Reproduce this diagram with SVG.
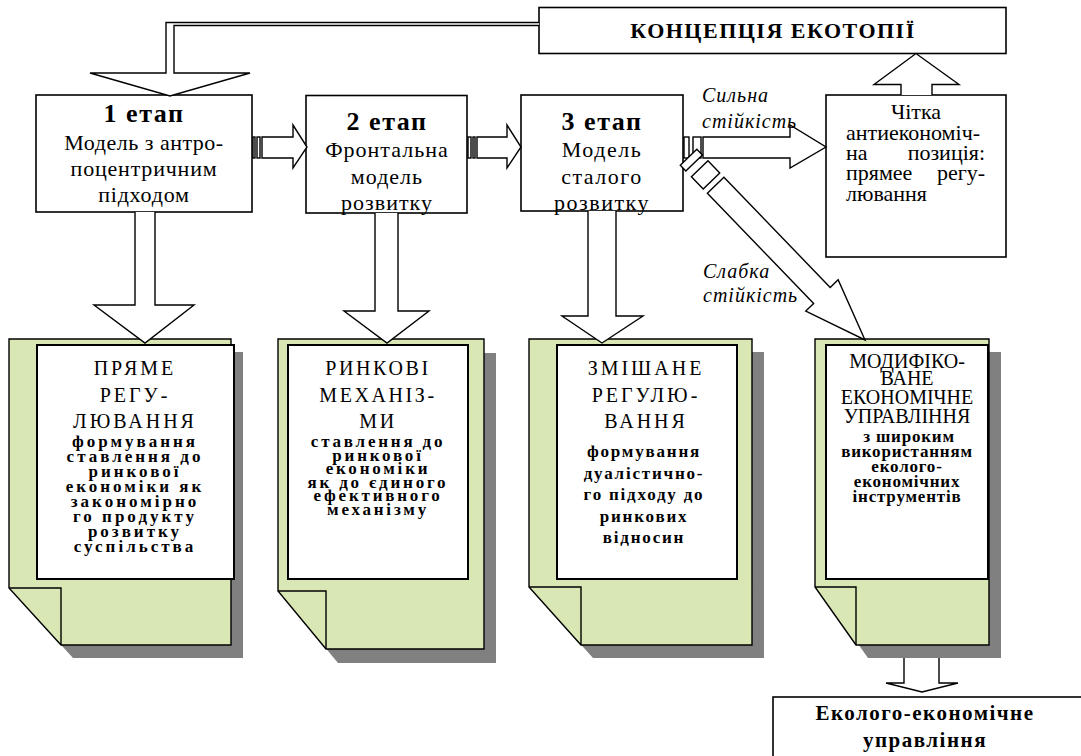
<svg xmlns="http://www.w3.org/2000/svg" width="1081" height="756" viewBox="0 0 1081 756">
<style>
.box{fill:#fff;stroke:#000;stroke-width:1.6}
.doc{fill:#d9e7b5;stroke:#000;stroke-width:1.4}
.shadow{fill:#808080}
.fold{fill:none;stroke:#000;stroke-width:1.4}
.inner{fill:#fff;stroke:#000;stroke-width:2}
.arr{fill:#fff;stroke:#000;stroke-width:1.4;stroke-linejoin:miter}
.t{font-family:"Liberation Serif","Times New Roman",serif;fill:#000;text-anchor:middle}
.b{font-weight:bold}
.i{font-style:italic;text-anchor:start;font-size:20px;letter-spacing:1px}
.s{text-anchor:start}
.e{text-anchor:end}
.st{font-size:22px}
.dt{font-size:20px}
.db{font-size:17px;font-weight:bold}
</style>
<rect width="1081" height="756" fill="#fff"/>

<g id="concept">
<rect class="box" x="539" y="7.5" width="467" height="46"/>
<text class="t b" x="773" y="38" font-size="22" letter-spacing="1.5">КОНЦЕПЦІЯ ЕКОТОПІЇ</text>
</g>

<g id="stage1">
<rect class="box" x="36" y="95" width="216" height="117"/>
<text class="t b" x="144" y="122" font-size="26" letter-spacing="1.5">1 етап</text>
<text class="t st" x="144" y="150" letter-spacing="0.5">Модель з антро-</text>
<text class="t st" x="144" y="176" letter-spacing="0.8">поцентричним</text>
<text class="t st" x="144" y="202" letter-spacing="0.8">підходом</text>
</g>

<g id="stage2">
<rect class="box" x="306" y="95.5" width="161" height="117.5"/>
<text class="t b" x="387" y="130" font-size="26" letter-spacing="1.5">2 етап</text>
<text class="t st" x="387" y="157" letter-spacing="1">Фронтальна</text>
<text class="t st" x="387" y="184" letter-spacing="1">модель</text>
<text class="t st" x="387" y="210" letter-spacing="1">розвитку</text>
</g>

<g id="stage3">
<rect class="box" x="521" y="95" width="162" height="116"/>
<text class="t b" x="602" y="130" font-size="26" letter-spacing="1.5">3 етап</text>
<text class="t st" x="602" y="157" letter-spacing="1.5">Модель</text>
<text class="t st" x="602" y="184" letter-spacing="1.5">сталого</text>
<text class="t st" x="602" y="210" letter-spacing="1.5">розвитку</text>
</g>

<g id="strong-position">
<rect class="box" x="826" y="95" width="180" height="162"/>
<text class="t st" x="916" y="119">Чітка</text>
<text class="t st s" x="846" y="140">антиекономіч-</text>
<text class="t st s" x="846" y="160">на</text>
<text class="t st e" x="985" y="160">позиція:</text>
<text class="t st s" x="846" y="180">прямее</text>
<text class="t st e" x="985" y="180">регу-</text>
<text class="t st s" x="846" y="201">лювання</text>
</g>

<g id="doc1">
<path class="shadow" d="M21,352 H243 V658 H73 L21,601 Z"/>
<path class="doc" d="M9,339 H231 V645 H61 L9,588 Z"/>
<path class="fold" d="M9,588 H61 V645"/>
<rect class="inner" x="37" y="345" width="197" height="234"/>
<g class="t">
<text class="dt" x="135" y="375" letter-spacing="3">ПРЯМЕ</text>
<text class="dt" x="135" y="402" letter-spacing="3">РЕГУ-</text>
<text class="dt" x="135" y="428" letter-spacing="3">ЛЮВАННЯ</text>
<g class="db" letter-spacing="3">
<text x="135" y="447">формування</text>
<text x="135" y="462">ставлення до</text>
<text x="135" y="477">ринкової</text>
<text x="135" y="492">економіки як</text>
<text x="135" y="507">закономірно</text>
<text x="135" y="522">го продукту</text>
<text x="135" y="537">розвитку</text>
<text x="135" y="552">суспільства</text>
</g>
</g>
</g>

<g id="doc2">
<path class="shadow" d="M290,353 H496 V663 H338 L290,605 Z"/>
<path class="doc" d="M278,339 H484 V649 H326 L278,591 Z"/>
<path class="fold" d="M278,591 H326 V649"/>
<rect class="inner" x="288" y="345" width="180" height="234"/>
<g class="t">
<text class="dt" x="378" y="375" letter-spacing="2.6">РИНКОВІ</text>
<text class="dt" x="378" y="402" letter-spacing="2.6">МЕХАНІЗ-</text>
<text class="dt" x="378" y="428" letter-spacing="2.6">МИ</text>
<g class="db" letter-spacing="2.8">
<text x="378" y="447">ставлення до</text>
<text x="378" y="460.5">ринкової</text>
<text x="378" y="474">економіки</text>
<text x="378" y="487.5">як до єдиного</text>
<text x="378" y="501">ефективного</text>
<text x="378" y="514.5">механізму</text>
</g>
</g>
</g>

<g id="doc3">
<path class="shadow" d="M541,352 H764 V658 H593 L541,600 Z"/>
<path class="doc" d="M529,339 H752 V645 H581 L529,587 Z"/>
<path class="fold" d="M529,587 H581 V645"/>
<rect class="inner" x="557" y="345" width="180" height="234"/>
<g class="t">
<text class="dt" x="646" y="375" letter-spacing="3">ЗМІШАНЕ</text>
<text class="dt" x="646" y="402" letter-spacing="3">РЕГУЛЮ-</text>
<text class="dt" x="646" y="428" letter-spacing="3">ВАННЯ</text>
<g class="db" letter-spacing="1.8">
<text x="644" y="457">формування</text>
<text x="644" y="478.5">дуалістично-</text>
<text x="644" y="500">го підходу до</text>
<text x="644" y="521.5">ринкових</text>
<text x="644" y="543">відносин</text>
</g>
</g>
</g>

<g id="doc4">
<path class="shadow" d="M827,352 H1001 V658 H868 L827,600 Z"/>
<path class="doc" d="M815,339 H989 V645 H856 L815,587 Z"/>
<path class="fold" d="M815,587 H856 V645"/>
<rect class="inner" x="826" y="345" width="162" height="234"/>
<g class="t">
<text class="dt" x="907" y="368">МОДИФІКО-</text>
<text class="dt" x="907" y="385">ВАНЕ</text>
<text class="dt" x="907" y="404">ЕКОНОМІЧНЕ</text>
<text class="dt" x="907" y="423">УПРАВЛІННЯ</text>
<g class="db" letter-spacing="0.8">
<text x="909" y="442">з широким</text>
<text x="907" y="457">використанням</text>
<text x="907" y="472">еколого-</text>
<text x="907" y="487">економічних</text>
<text x="907" y="502">інструментів</text>
</g>
</g>
</g>

<g id="eco-management">
<rect class="box" x="773" y="697" width="320" height="80"/>
<text class="t b" x="925" y="720" font-size="21" letter-spacing="1.5">Еколого-економічне</text>
<text class="t b" x="925" y="747" font-size="21" letter-spacing="1.5">управління</text>
</g>

<g id="connectors">
<path class="arr" d="M539,22.5 H166 V73 H90 L170,96 L250,73 H174 V25.5 H539"/>
<path class="arr" d="M901,95 V84.5 H874 L916,53.5 L959,84.5 H932 V95"/>

<rect class="arr" x="253" y="137" width="2" height="21"/>
<rect class="arr" x="257" y="137" width="3" height="21"/>
<path class="arr" d="M262,137 H293 V125 L307,147 L293,168 V158 H262 Z"/>

<rect class="arr" x="468" y="137" width="3" height="21"/>
<rect class="arr" x="473" y="137" width="2" height="21"/>
<path class="arr" d="M477,137 H507 V125 L521,147 L507,168 V158 H477 Z"/>

<rect class="arr" x="684" y="137" width="5" height="21"/>
<rect class="arr" x="693" y="137" width="8" height="21"/>
<path class="arr" d="M703,137 H790 V125 L826,147 L790,168 V158 H703 Z"/>

<g transform="translate(865,340) rotate(46)">
<rect class="arr" x="-254" y="-11.5" width="8" height="23"/>
<rect class="arr" x="-238" y="-11.5" width="17" height="23"/>
<path class="arr" d="M-215,-11.5 H-62 V-22.5 L0,0 L-62,22.5 V11.5 H-215 Z"/>
</g>

<path class="arr" d="M135,212 V305 H94 L145,343 L194,305 H155 V212"/>
<path class="arr" d="M375,213 V311 H344 L387,343 L429,311 H398 V213"/>
<path class="arr" d="M588,211 V316 H562 L602,343 L643,316 H616 V211"/>
<path class="arr" d="M904,658 V683 H886 L922,692 L958,683 H939 V658"/>

<text class="t i" x="702" y="102">Сильна</text>
<text class="t i" x="702" y="128">стійкість</text>
<text class="t i" x="703" y="278">Слабка</text>
<text class="t i" x="703" y="302">стійкість</text>
</g>
</svg>
